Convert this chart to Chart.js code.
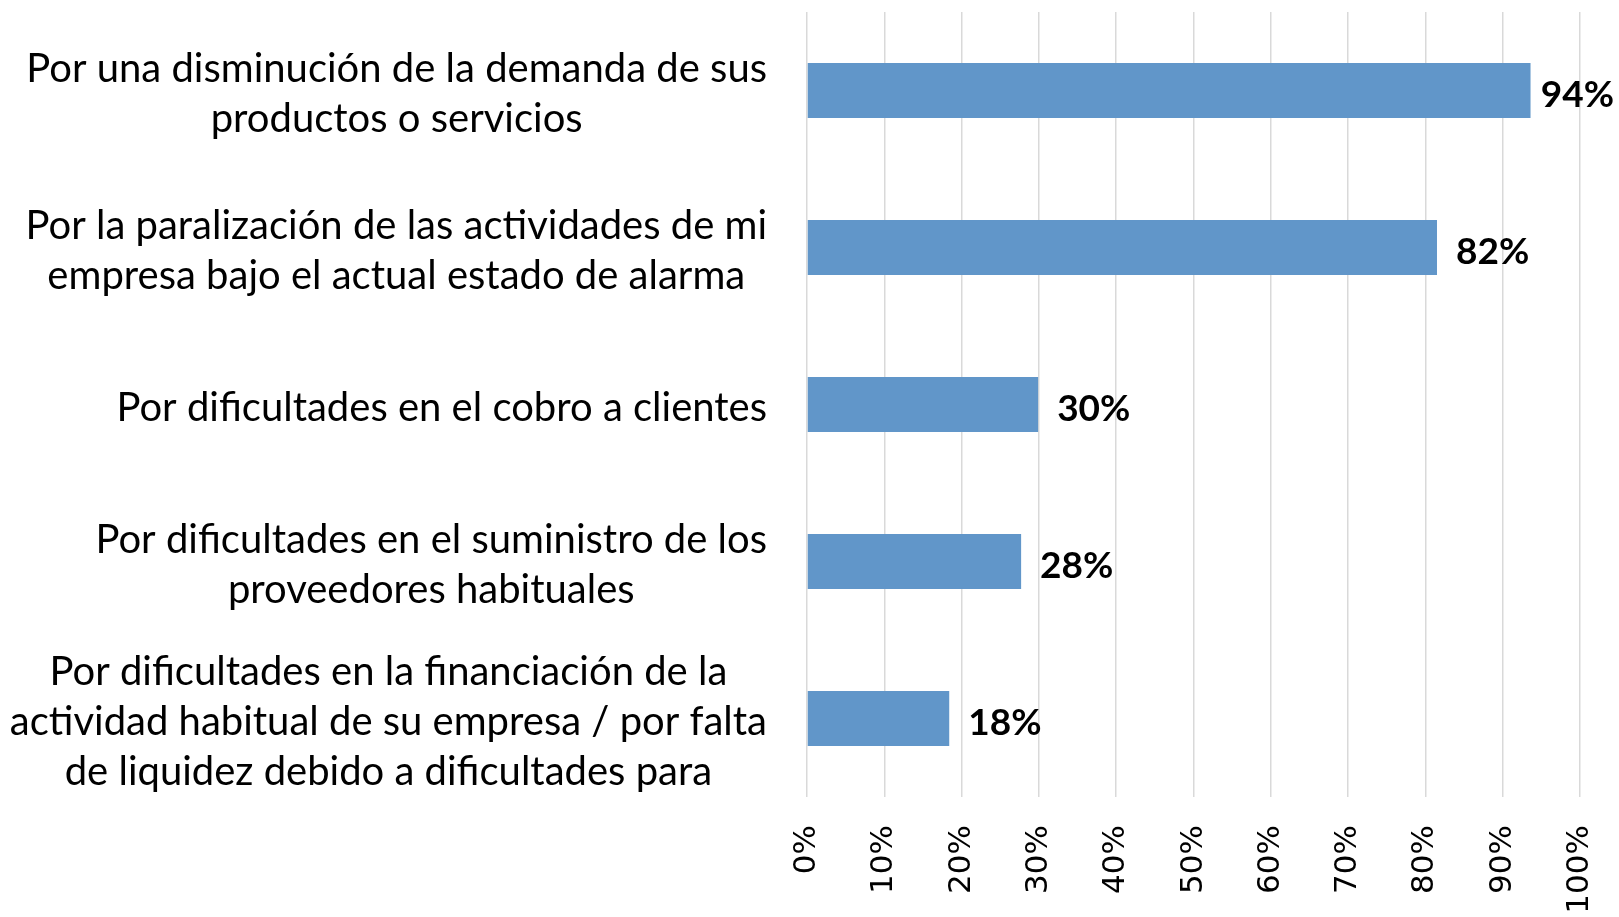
<!DOCTYPE html>
<html>
<head>
<meta charset="utf-8">
<script src="https://cdn.jsdelivr.net/npm/chart.js@4.4.0/dist/chart.umd.min.js"></script>
<style>
  html, body { margin: 0; padding: 0; background: #fff; }
  #wrap { width: 1619px; height: 917px; }
</style>
</head>
<body>
<div id="wrap"><canvas id="chart" width="1619" height="917"></canvas></div>
<script>
// categories (each one split into the lines shown in the picture)
const categorias = [
  ["Por una disminución de la demanda de sus", "productos o servicios"],
  ["Por la paralización de las actividades de mi", "empresa bajo el actual estado de alarma"],
  ["Por dificultades en el cobro a clientes"],
  ["Por dificultades en el suministro de los", "proveedores habituales"],
  ["Por dificultades en la financiación de la", "actividad habitual de su empresa / por falta", "de liquidez debido a dificultades para"]
];
// share of firms (0..1)
const valores = [0.936, 0.815, 0.299, 0.277, 0.184];
// x axis ticks
const ticksX = [0, 0.1, 0.2, 0.3, 0.4, 0.5, 0.6, 0.7, 0.8, 0.9, 1];

const LABEL_FONT = "40px Lato";
const VALUE_FONT = "bold 37px Lato";

// draws the category labels: block right-aligned to the axis, lines centred
const etiquetas = {
  id: "etiquetas",
  afterDraw(chart) {
    const ctx = chart.ctx;
    const y = chart.scales.y;
    const x0 = chart.chartArea.left - 40;
    ctx.save();
    ctx.font = LABEL_FONT;
    ctx.fillStyle = "#000";
    ctx.textBaseline = "middle";
    ctx.textAlign = "center";
    categorias.forEach((lineas, i) => {
      const w = Math.max(...lineas.map(l => ctx.measureText(l).width));
      const cx = x0 - w / 2;
      const cy = y.getPixelForTick(i) + 4;
      const lh = 50;
      lineas.forEach((l, j) => {
        ctx.fillText(l, cx, cy + (j - (lineas.length - 1) / 2) * lh);
      });
    });
    ctx.restore();
  }
};

// value labels after each bar (pushed back in if it would leave the canvas)
const valoresPlugin = {
  id: "valoresPlugin",
  afterDatasetsDraw(chart) {
    const ctx = chart.ctx;
    const meta = chart.getDatasetMeta(0);
    ctx.save();
    ctx.font = VALUE_FONT;
    ctx.fillStyle = "#000";
    ctx.textBaseline = "middle";
    ctx.textAlign = "left";
    meta.data.forEach((bar, i) => {
      const txt = Math.round(valores[i] * 100) + "%";
      const tw = ctx.measureText(txt).width;
      const x = Math.min(bar.x + 19, chart.width - tw - 5);
      ctx.fillText(txt, x, bar.y + 5);
    });
    ctx.restore();
  }
};

new Chart(document.getElementById("chart"), {
  type: "bar",
  data: {
    labels: categorias,
    datasets: [{
      data: valores,
      backgroundColor: "#6196c9",
      categoryPercentage: 1,
      barPercentage: 0.35
    }]
  },
  plugins: [etiquetas, valoresPlugin],
  options: {
    indexAxis: "y",
    responsive: false,
    animation: false,
    layout: { padding: { left: 807, right: 39, top: 12, bottom: 0 } },
    plugins: { legend: { display: false }, tooltip: { enabled: false } },
    scales: {
      x: {
        min: 0,
        max: 1,
        afterBuildTicks: (s) => { s.ticks = ticksX.map(v => ({ value: v })); },
        afterFit: (s) => { s.height = 120; s.paddingRight = 0; s.paddingLeft = 0; },
        grid: { color: "#d9d9d9", lineWidth: 1.5, drawTicks: false },
        border: { display: false },
        ticks: {
          minRotation: 90,
          maxRotation: 90,
          padding: 28,
          color: "#000",
          font: { family: "DejaVu Sans", size: 31 },
          callback: (v) => Math.round(v * 100) + "%"
        }
      },
      y: { display: false }
    }
  }
});
</script>
</body>
</html>
